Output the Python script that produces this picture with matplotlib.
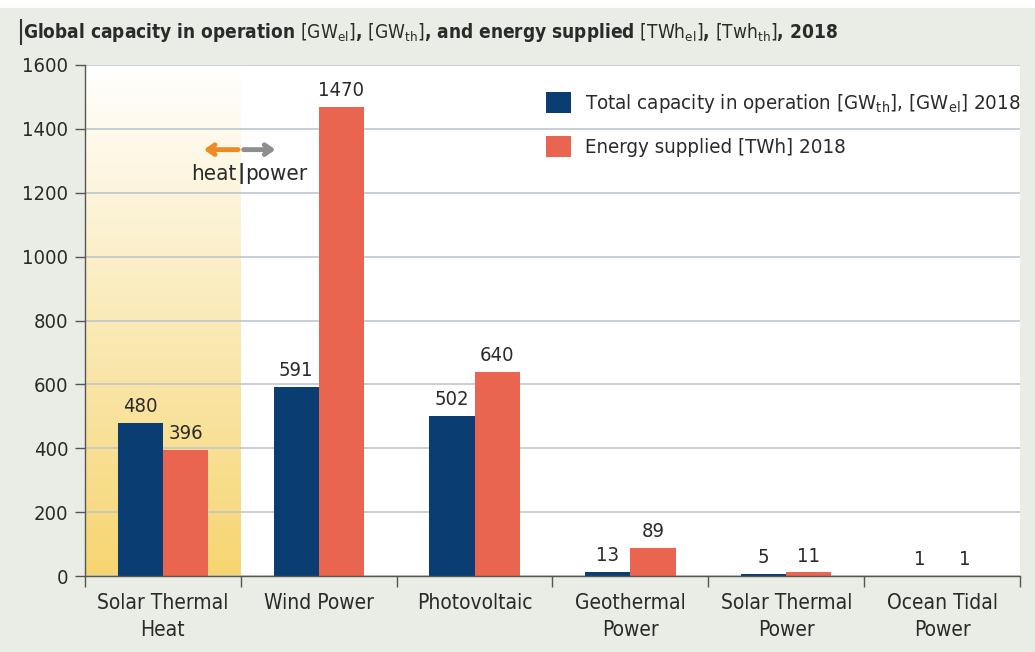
import numpy as np
import matplotlib
matplotlib.use('Agg')
import matplotlib.pyplot as plt
from matplotlib import rcParams
from matplotlib import font_manager
from matplotlib.patches import Rectangle
from matplotlib.lines import Line2D

# 字体：优先找窄体（Narrow / Condensed），没有就用普通 DejaVu
names = {(f.name, f.stretch) for f in font_manager.fontManager.ttflist}
if any(n == 'Liberation Sans Narrow' for n, _ in names):
    FONT, STRETCH = 'Liberation Sans Narrow', 'normal'
elif ('DejaVu Sans', 'condensed') in names:
    FONT, STRETCH = 'DejaVu Sans', 'condensed'
else:
    FONT, STRETCH = 'DejaVu Sans', 'normal'
rcParams['font.family'] = [FONT, 'DejaVu Sans']
rcParams['font.stretch'] = STRETCH
rcParams['mathtext.fontset'] = 'custom'
rcParams['mathtext.rm'] = f'{FONT}:stretch={STRETCH}'
rcParams['mathtext.it'] = f'{FONT}:italic:stretch={STRETCH}'
rcParams['mathtext.bf'] = f'{FONT}:bold:stretch={STRETCH}'

# 数据
categories = ['Solar Thermal\nHeat', 'Wind Power', 'Photovoltaic',
              'Geothermal\nPower', 'Solar Thermal\nPower', 'Ocean Tidal\nPower']
capacity = [480, 591, 502, 13, 5, 1]
energy = [396, 1470, 640, 89, 11, 1]
yticks = [0, 200, 400, 600, 800, 1000, 1200, 1400, 1600]

BLUE = '#0a3d72'
ORANGE = '#e9654f'
BG = '#e9ede5'
TXT = '#2a2a2a'

fig = plt.figure(figsize=(10.35, 6.52), dpi=100, facecolor=BG)
# 顶部一条白边
fig.patches.append(Rectangle((0, 1 - 8 / 652), 1, 8 / 652, transform=fig.transFigure,
                             facecolor='white', edgecolor='none', zorder=0))
ax = fig.add_axes([85 / 1035, 1 - 576 / 652, 935 / 1035, 511 / 652])
ax.set_facecolor('white')

x = np.arange(len(categories))
w = 0.29

# heat 区域渐变底色（上白下黄）
grad = np.linspace(0, 1, 256).reshape(-1, 1) ** 1.0
c_top = np.array([1.0, 1.0, 1.0])
c_bot = np.array([0.965, 0.835, 0.44])
img = c_top[None, None, :] * (1 - grad[..., None]) + c_bot[None, None, :] * grad[..., None]
ax.imshow(img, extent=[-0.5, 0.5, 0, 1600], origin='upper', aspect='auto',
          zorder=0, interpolation='bilinear')

ax.set_xlim(-0.5, len(categories) - 0.5)
ax.set_ylim(0, 1600)

b1 = ax.bar(x - w / 2, capacity, w, color=BLUE, zorder=2,
            label='Total capacity in operation $[\\mathrm{GW}_{\\mathrm{th}}]$, $[\\mathrm{GW}_{\\mathrm{el}}]$ 2018')
b2 = ax.bar(x + w / 2, energy, w, color=ORANGE, zorder=2,
            label='Energy supplied [TWh] 2018')
ax.bar_label(b1, padding=5, fontsize=14.5, color=TXT)
ax.bar_label(b2, padding=5, fontsize=14.5, color=TXT)

ax.set_yticks(yticks)
ax.yaxis.grid(True, color='#bcc7cf', lw=1.2)
for gl in ax.get_ygridlines():
    gl.set_zorder(1)

ax.set_xticks(x)
ax.set_xticklabels(categories, linespacing=1.45)
ax.set_xticks(np.arange(-0.5, len(categories), 1), minor=True)
ax.tick_params(axis='x', which='major', length=0, pad=12, labelsize=15, labelcolor=TXT)
ax.tick_params(axis='x', which='minor', length=8, width=1, color='#555555')
ax.tick_params(axis='y', length=7, width=1, color='#555555', pad=5, labelsize=14.5, labelcolor=TXT)

for s in ['top', 'right']:
    ax.spines[s].set_visible(False)
for s in ['left', 'bottom']:
    ax.spines[s].set_color('#555555')
    ax.spines[s].set_linewidth(1)
    ax.spines[s].set_zorder(3)

# heat | power 箭头
ax.annotate('', xy=(0.245, 1335), xytext=(0.5, 1335),
            arrowprops=dict(arrowstyle='->,head_length=0.5,head_width=0.35', color='#ee8a22', lw=3.5))
ax.annotate('', xy=(0.74, 1335), xytext=(0.5, 1335),
            arrowprops=dict(arrowstyle='->,head_length=0.5,head_width=0.35', color='#8e8e8e', lw=3.5))
ax.text(0.475, 1260, 'heat', ha='right', va='center', fontsize=16, color=TXT)
ax.text(0.5, 1260, '|', ha='center', va='center', fontsize=16, color=TXT, fontweight='bold')
ax.text(0.525, 1260, 'power', ha='left', va='center', fontsize=16, color=TXT)

# 图例后面的白底（盖住 1400 网格线）
ax.add_patch(Rectangle((0.46, 0.775), 0.54, 0.21, transform=ax.transAxes,
                       facecolor='white', edgecolor='none', zorder=1.5))
leg = ax.legend(loc='upper right', bbox_to_anchor=(1.014, 0.972), frameon=False, fontsize=14.7,
                handlelength=1.25, handleheight=1.25, borderaxespad=0.2, labelspacing=1.0,
                borderpad=0.4, handletextpad=0.7)
for t in leg.get_texts():
    t.set_color(TXT)
leg.set_zorder(4)

# 标题左边那条竖线
fig.add_artist(Line2D([21 / 1035, 21 / 1035], [1 - 44 / 652, 1 - 20 / 652],
                      transform=fig.transFigure, color='#333333', lw=1.5))
fig.text(23 / 1035, 1 - 32 / 652,
         'Global capacity in operation $[\\mathrm{GW}_{\\mathrm{el}}]$, $[\\mathrm{GW}_{\\mathrm{th}}]$, '
         'and energy supplied $[\\mathrm{TWh}_{\\mathrm{el}}]$, $[\\mathrm{Twh}_{\\mathrm{th}}]$, 2018',
         ha='left', va='center', fontsize=13.7, fontweight='bold', color=TXT)

fig.savefig('out.png', dpi=100, facecolor=BG)
